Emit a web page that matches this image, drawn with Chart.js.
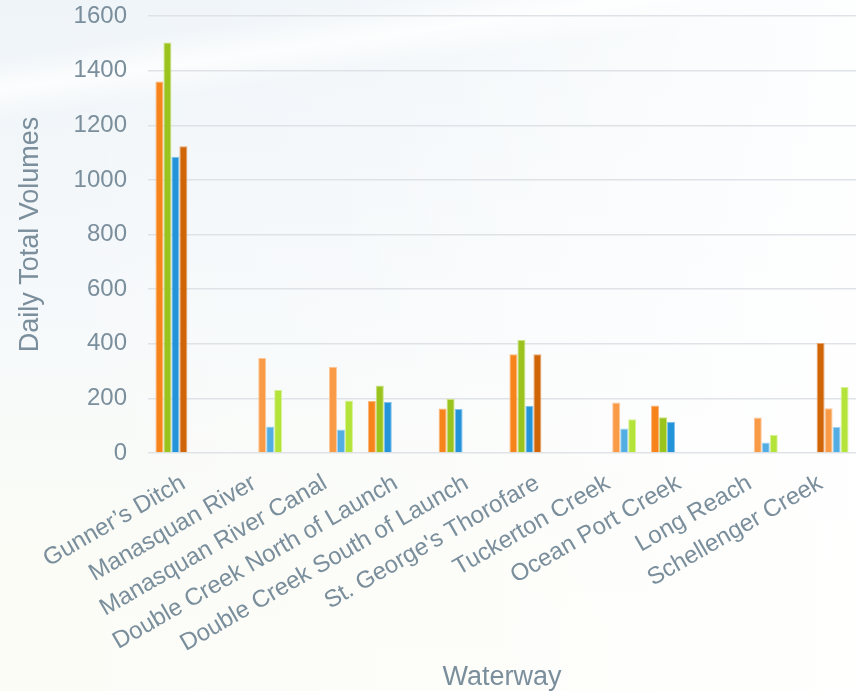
<!DOCTYPE html>
<html lang="en">
<head>
  <meta charset="UTF-8" />
  <title>Daily Total Volumes by Waterway</title>
  <style>
    html, body {
      margin: 0;
      padding: 0;
    }
    body {
      width: 856px;
      height: 691px;
      overflow: hidden;
      background:
        linear-gradient(172deg, rgba(255,255,255,0) 7%, rgba(255,255,255,0.8) 11%, rgba(255,255,255,0) 15%),
        linear-gradient(180deg, rgba(238,244,248,1) 0%, rgba(246,249,251,1) 45%, rgba(251,252,246,1) 80%, rgba(252,252,247,1) 100%);
    }
    .chart-box {
      position: relative;
      width: 856px;
      height: 691px;
      background: linear-gradient(90deg, rgba(255,255,255,0) 0%, rgba(255,255,255,0.2) 40%, rgba(255,255,255,0.9) 100%);
    }
  </style>
</head>
<body>
  <div class="chart-box">
    <canvas id="volumeChart"></canvas>
  </div>

  <script src="https://cdn.jsdelivr.net/npm/chart.js@4"></script>
  <script>
    const waterways = [
      "Gunner’s Ditch", "Manasquan River", "Manasquan River Canal",
      "Double Creek North of Launch", "Double Creek South of Launch",
      "St. George's Thorofare", "Tuckerton Creek", "Ocean Port Creek",
      "Long Reach", "Schellenger Creek"
    ];
    const yTicks = [0, 200, 400, 600, 800, 1000, 1200, 1400, 1600];

    // one array per colour, null where the bar is missing
    const orangeVals     = [1360, null, null, 190, 163, 362, null, 174, null, null];
    const greenVals      = [1503, null, null, 247, 198, 414, null, 131, null, null];
    const blueVals       = [1085, null, null, 188, 161, 173, null, 114, null, null];
    const darkOrangeVals = [1123, null, null, null, null, 362, null, null, null, 403];
    const lightOrangeVals = [null, 348, 316, null, null, null, 185, null, 130, 164];
    const lightBlueVals   = [null, 97, 86, null, null, null, 90, null, 38, 95];
    const lightGreenVals  = [null, 232, 192, null, null, null, 124, null, 67, 242];

    const textColor = '#7a8e9c';
    const fontFamily = "'Liberation Sans', Arial, sans-serif";

    const makeSet = (label, data, fill, edge) => ({
      label: label,
      data: data,
      backgroundColor: fill,
      borderColor: edge,
      borderWidth: 1,
      barPercentage: 1,
      categoryPercentage: 0.79
    });

    const datasets = [
      makeSet('Series 1', orangeVals, '#f7841a', '#fbb579'),
      makeSet('Series 2', greenVals, '#9ac31e', '#c9e27c'),
      makeSet('Series 3', blueVals, '#2394d9', '#86c3ea'),
      makeSet('Series 4', darkOrangeVals, '#d06508', '#e6a36d'),
      makeSet('Series 5', lightOrangeVals, '#f99b46', '#fcc799'),
      makeSet('Series 6', lightBlueVals, '#52ade2', '#a2d2f0'),
      makeSet('Series 7', lightGreenVals, '#b4e33a', '#d8f197')
    ];

    new Chart(document.getElementById('volumeChart'), {
      type: 'bar',
      data: {
        labels: waterways,
        datasets: datasets
      },
      options: {
        responsive: true,
        maintainAspectRatio: false,
        animation: false,
        plugins: {
          legend: { display: false },
          tooltip: { enabled: false }
        },
        scales: {
          x: {
            grid: { display: false, drawTicks: false },
            border: { display: false },
            ticks: {
              color: textColor,
              font: { family: fontFamily, size: 24 },
              minRotation: 30,
              maxRotation: 30,
              padding: 16,
              autoSkip: false
            },
            title: {
              display: true,
              text: 'Waterway',
              color: textColor,
              font: { family: fontFamily, size: 27 },
              padding: { top: 0, bottom: -3 }
            },
            // axis area below the plot
            afterFit: (scale) => { scale.height = 238; }
          },
          y: {
            min: 0,
            max: 1600,
            afterBuildTicks: (axis) => {
              axis.ticks = yTicks.map(v => ({ value: v }));
            },
            grid: {
              color: '#dfe3e7',
              lineWidth: 1.5,
              drawTicks: false
            },
            border: { display: false },
            ticks: {
              color: textColor,
              font: { family: fontFamily, size: 24 },
              padding: 21,
              callback: (v) => String(v)
            },
            title: {
              display: true,
              text: 'Daily Total Volumes',
              color: textColor,
              font: { family: fontFamily, size: 27 },
              padding: { top: 14, bottom: 26 }
            },
            afterFit: (scale) => {
              scale.width = 148;
              scale.paddingTop = 16;
            }
          }
        }
      }
    });
  </script>
</body>
</html>
